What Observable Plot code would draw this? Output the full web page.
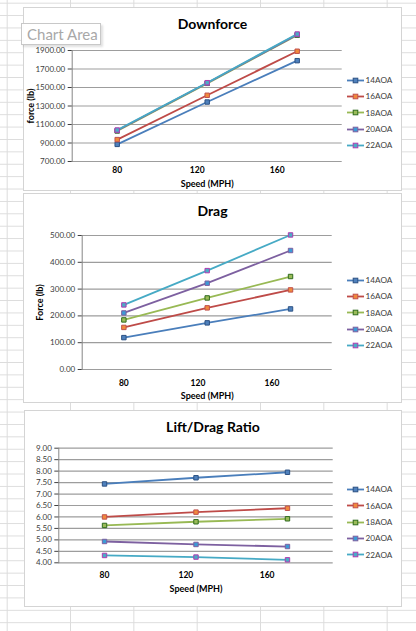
<!DOCTYPE html>
<html>
<head>
<meta charset="utf-8">
<script src="https://cdn.jsdelivr.net/npm/d3@7"></script>
<script src="https://cdn.jsdelivr.net/npm/@observablehq/plot@0.6"></script>
<style>
  body { margin: 0; }
  #sheet {
    position: relative; width: 416px; height: 631px; overflow: hidden; background-color: #fff;
    background-image: linear-gradient(to right, #dcdcdc 1px, transparent 1px),
                      linear-gradient(to bottom, #dcdcdc 1px, transparent 1px);
    background-size: 63.33px 12.4px;
    background-position: 6.7px 2.7px;
    font-family: Lato, sans-serif;
  }
  .chart { position: absolute; background: #fff; outline: 1px solid #d4d4d4; outline-offset: -1px; }
  .chart > svg { position: absolute; left: 0; top: 0; }
  .title { position: absolute; left: 0; right: 0; text-align: center; font-weight: bold; font-size: 14px; line-height: 14px; color: #000; }
  .legend { position: absolute; font-size: 8.2px; color: #404040; }
  .legend .item { display: flex; align-items: center; height: 16.3px; }
  .legend .item svg { margin-right: 2px; }
  g[aria-label="y-axis label"] text, g[aria-label="x-axis label"] text { font-weight: bold; fill: #000; font-size: 9px; }
  g[aria-label="x-axis tick label"] text { font-weight: bold; fill: #000; font-size: 8.5px; }
  #tip {
    position: absolute; left: 21px; top: 23px; width: 80px; height: 22px; box-sizing: border-box;
    background: rgba(255,255,255,0.95); border: 1px solid #c8c8c8; box-shadow: 2px 2px 2px rgba(0,0,0,0.12);
    font-size: 15px; line-height: 20px; color: #a8a8a8; padding-left: 5px; z-index: 5;
  }
</style>
</head>
<body>
<div id="sheet"></div>
<script>
// values
const speeds = [80, 125, 170];
const series = ["14AOA", "16AOA", "18AOA", "20AOA", "22AOA"];

const downforce = [
  [885, 1343, 1790],
  [937, 1416, 1892],
  [1030, 1545, 2065],
  [1035, 1548, 2072],
  [1040, 1552, 2078]
];
const drag = [
  [119, 174, 226],
  [157, 230, 297],
  [185, 267, 347],
  [211, 322, 444],
  [241, 369, 502]
];
const liftDrag = [
  [7.44, 7.71, 7.95],
  [6.00, 6.21, 6.38],
  [5.63, 5.79, 5.92],
  [4.93, 4.80, 4.71],
  [4.32, 4.25, 4.13]
];

const xTicks = [80, 120, 160];
const downforceTicks = [700, 900, 1100, 1300, 1500, 1700, 1900];
const dragTicks = [0, 100, 200, 300, 400, 500];
const ratioTicks = [4, 4.5, 5, 5.5, 6, 6.5, 7, 7.5, 8, 8.5, 9];

// Excel 2010 palette
const lineColors = ["#4a7ebb", "#be4b48", "#98b954", "#7d60a0", "#46aac5"];
const markerFill = ["#4f81bd", "#f08a3c", "#9bbb59", "#3c9ad6", "#4bacc6"];
const markerStroke = ["#2c5183", "#c0504d", "#2f6b1e", "#7d60a0", "#b03cb0"];

const charts = [
  { title: "Downforce", values: downforce, yTicks: downforceTicks, yLabel: "force (lb)",
    box: [23, 7, 379, 184], m: [43, 60.3, 30, 48.7], titleTop: 10,
    xPad: 5.5, xLabelOffset: 25.5, yLabelOffset: 45, legendTop: 65 },
  { title: "Drag", values: drag, yTicks: dragTicks, yLabel: "Force (lb)",
    box: [23, 193, 379, 210], m: [42, 70.3, 34, 58.7], titleTop: 11.3,
    xPad: 10, xLabelOffset: 29.5, yLabelOffset: 46, legendTop: 79 },
  { title: "Lift/Drag Ratio", values: liftDrag, yTicks: ratioTicks, yLabel: null,
    box: [24, 410, 378, 197], m: [37.7, 69.3, 44.7, 34.3], titleTop: 10,
    xPad: 9, xLabelOffset: 29, yLabelOffset: 30, legendTop: 71.3 }
];

const sheet = document.getElementById("sheet");

function drawChart(c) {
  const [left, top, width, height] = c.box;
  const [mt, mr, mb, ml] = c.m;
  const rows = series.flatMap((s, i) =>
    speeds.map((sp, j) => ({ series: s, speed: sp, value: c.values[i][j] })));

  const div = document.createElement("div");
  div.className = "chart";
  Object.assign(div.style, { left: left + "px", top: top + "px", width: width + "px", height: height + "px" });

  const title = document.createElement("div");
  title.className = "title";
  title.style.top = c.titleTop + "px";
  title.textContent = c.title;
  div.appendChild(title);

  const seriesMarks = series.flatMap((s, i) => {
    const d = rows.filter(r => r.series === s);
    return [
      Plot.line(d, { x: "speed", y: "value", stroke: lineColors[i], strokeWidth: 1.8 }),
      Plot.dot(d, { x: "speed", y: "value", symbol: "square", r: 2.5,
        fill: markerFill[i], stroke: markerStroke[i], strokeWidth: 1 })
    ];
  });

  const chart = Plot.plot({
    width, height,
    marginTop: mt, marginRight: mr, marginBottom: mb, marginLeft: ml,
    style: { fontFamily: "Lato, sans-serif", fontSize: "8px", color: "#404040",
      background: "transparent", overflow: "visible" },
    x: { domain: [57.5, 192.5] },
    y: { domain: [c.yTicks[0], c.yTicks[c.yTicks.length - 1]] },
    marks: [
      Plot.gridY(c.yTicks, { stroke: "#9d9d9d", strokeOpacity: 1, strokeWidth: 1.2 }),
      Plot.frame({ anchor: "left", stroke: "#868686" }),
      Plot.axisY(c.yTicks, { tickSize: 4, tickPadding: 3, tickFormat: d3.format(".2f"),
        label: c.yLabel, labelAnchor: "center", labelOffset: c.yLabelOffset, labelArrow: "none" }),
      Plot.axisX(xTicks, { tickSize: 0, tickPadding: c.xPad, label: "Speed (MPH)",
        labelAnchor: "center", labelOffset: c.xLabelOffset, labelArrow: "none" }),
      ...seriesMarks
    ]
  });
  div.appendChild(chart);

  const legend = document.createElement("div");
  legend.className = "legend";
  legend.style.left = (346.5 - left) + "px";
  legend.style.top = c.legendTop + "px";
  series.forEach((s, i) => {
    const item = document.createElement("div");
    item.className = "item";
    item.innerHTML =
      `<svg width="17" height="7"><line x1="0" x2="17" y1="3.5" y2="3.5" stroke="${lineColors[i]}" stroke-width="1.8"/>` +
      `<rect x="6.2" y="1.2" width="4.6" height="4.6" fill="${markerFill[i]}" stroke="${markerStroke[i]}" stroke-width="1"/></svg>` +
      `<span>${s}</span>`;
    legend.appendChild(item);
  });
  div.appendChild(legend);

  sheet.appendChild(div);
}

charts.forEach(drawChart);

const tip = document.createElement("div");
tip.id = "tip";
tip.textContent = "Chart Area";
sheet.appendChild(tip);
</script>
</body>
</html>
